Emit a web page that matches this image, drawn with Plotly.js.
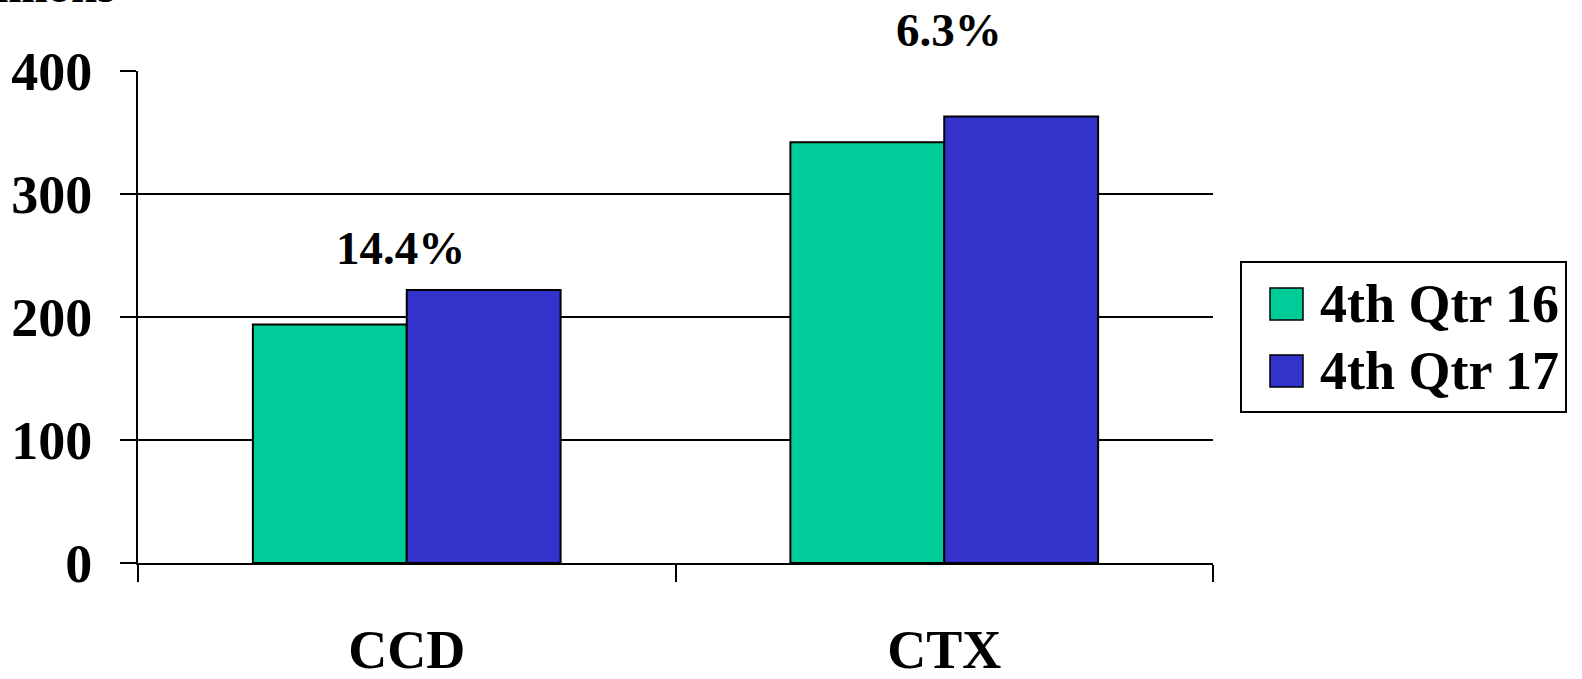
<!DOCTYPE html>
<html>
<head>
<meta charset="utf-8">
<script src="https://cdn.plot.ly/plotly-3.0.1.min.js"></script>
<style>
html,body{margin:0;padding:0;background:#fff;overflow:hidden;}
#chart{width:1582px;height:679px;}
</style>
</head>
<body>
<div id="chart"></div>
<script>
const categories = ["CCD", "CTX"];
const seriesNames = ["4th Qtr 16", "4th Qtr 17"];
const q4_16 = [194, 342];
const q4_17 = [222, 363];
const growthLabels = ["14.4%", "6.3%"];
const seriesColors = ["#00CC99", "#3333CC"];
const yTickVals = [0, 100, 200, 300, 400];
const yTickText = ["0", "100", "200", "300", "400"];
const unitLabel = "Millions";

const FONT = "Liberation Serif, Times New Roman, serif";
const W = 1582, H = 679;
const L = 138, R = 369, T = 71, B = 116;
const pw = W - L - R, ph = H - T - B;
const px = x => (x - L) / pw;
const py = y => (H - B - y) / ph;

const traces = [q4_16, q4_17].map((vals, i) => ({
  type: "bar",
  name: seriesNames[i],
  x: categories,
  y: vals,
  marker: {color: seriesColors[i], line: {color: "#000", width: 2}},
  showlegend: false,
  hoverinfo: "x+y+name"
}));

// growth labels, pixel centres above each category
const growthPixY = [248, 30];
const growthShiftX = [-6, 5];
const annotations = growthLabels.map((t, i) => ({
  x: categories[i], y: py(growthPixY[i]), xref: "x", yref: "paper",
  text: "<b>" + t + "</b>", showarrow: false,
  font: {family: FONT, size: 47, color: "#000"},
  xanchor: "center", yanchor: "middle", xshift: growthShiftX[i]
}));

annotations.push({
  x: px(118), y: py(4), xref: "paper", yref: "paper",
  text: "<b>" + unitLabel + "</b>", showarrow: false,
  font: {family: FONT, size: 47, color: "#000"},
  xanchor: "right", yanchor: "bottom", yshift: -10
});

// legend (drawn from series names and colors)
const legBox = {x0: 1241, x1: 1566, y0: 262, y1: 412};
const shapes = [{
  type: "rect", xref: "paper", yref: "paper",
  x0: px(legBox.x0), x1: px(legBox.x1), y0: py(legBox.y1), y1: py(legBox.y0),
  line: {color: "#000", width: 2}, fillcolor: "#fff"
}];
const rowY = [304, 371];
seriesNames.forEach((n, i) => {
  shapes.push({
    type: "rect", xref: "paper", yref: "paper",
    x0: px(1270), x1: px(1303), y0: py(rowY[i] + 16), y1: py(rowY[i] - 16),
    line: {color: "#000", width: 1.5}, fillcolor: seriesColors[i]
  });
  annotations.push({
    x: px(1318), y: py(rowY[i]), xref: "paper", yref: "paper",
    text: "<b>" + n + "</b>", showarrow: false,
    font: {family: FONT, size: 54, color: "#000"},
    xanchor: "left", yanchor: "middle"
  });
});

const layout = {
  width: W, height: H,
  margin: {l: L, r: R, t: T, b: B, pad: 0},
  paper_bgcolor: "#fff", plot_bgcolor: "#fff",
  barmode: "group", bargap: 0.4275, bargroupgap: 0,
  font: {family: FONT, color: "#000"},
  xaxis: {
    type: "category",
    showline: true, linecolor: "#000", linewidth: 2,
    ticks: "outside", tickson: "boundaries", ticklen: 17, tickwidth: 2, tickcolor: "#000",
    showgrid: false, zeroline: false,
    tickfont: {family: FONT, size: 54, color: "#000", weight: "bold"},
    ticklabelstandoff: 38
  },
  yaxis: {
    range: [0, 400],
    tickvals: yTickVals, ticktext: yTickText,
    showline: true, linecolor: "#000", linewidth: 2,
    ticks: "outside", ticklen: 16, tickwidth: 2, tickcolor: "#000",
    showgrid: true, gridcolor: "#000", gridwidth: 2,
    zeroline: false,
    tickfont: {family: FONT, size: 54, color: "#000", weight: "bold"},
    ticklabelstandoff: 17
  },
  shapes: shapes,
  annotations: annotations
};

Plotly.newPlot("chart", traces, layout, {displayModeBar: false, staticPlot: true});
</script>
</body>
</html>
